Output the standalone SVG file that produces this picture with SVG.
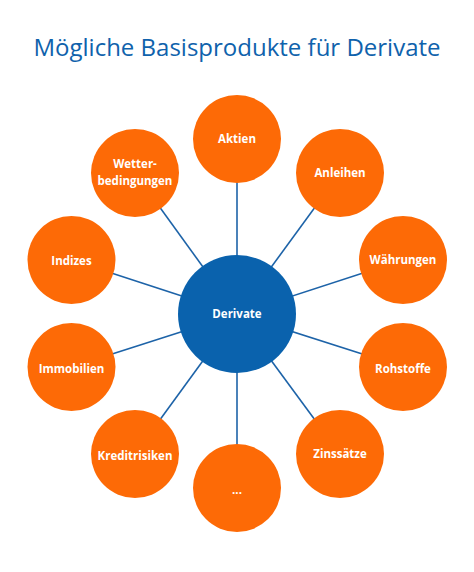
<svg xmlns="http://www.w3.org/2000/svg" width="474" height="572" viewBox="0 0 474 572">
<style>
.title{font-family:"Open Sans","Liberation Sans",sans-serif;font-size:24px;fill:#0f62ac}
.leaf circle{fill:#fd6a06}
.hub circle{fill:#0a62ad}
.lbl{font-family:"Open Sans","Liberation Sans",sans-serif;font-size:11.5px;font-weight:bold;fill:#ffffff;text-anchor:middle}
.conn line{stroke:#1d63a8;stroke-width:1.6}
</style>
<rect width="474" height="572" fill="#ffffff"/>
<text class="title" x="237" y="56" text-anchor="middle">Mögliche Basisprodukte für Derivate</text>
<g id="connectors" class="conn">
<line x1="237" y1="314" x2="237" y2="139"/>
<line x1="237" y1="314" x2="340" y2="173"/>
<line x1="237" y1="314" x2="403" y2="260"/>
<line x1="237" y1="314" x2="403" y2="367"/>
<line x1="237" y1="314" x2="340" y2="454"/>
<line x1="237" y1="314" x2="237" y2="488"/>
<line x1="237" y1="314" x2="135" y2="454"/>
<line x1="237" y1="314" x2="71.5" y2="367"/>
<line x1="237" y1="314" x2="71.5" y2="260"/>
<line x1="237" y1="314" x2="135" y2="173"/>
</g>
<g id="aktien" class="leaf"><circle cx="237" cy="139" r="44"/><text class="lbl" x="237" y="143">Aktien</text></g>
<g id="anleihen" class="leaf"><circle cx="340" cy="173" r="44"/><text class="lbl" x="340" y="177">Anleihen</text></g>
<g id="waehrungen" class="leaf"><circle cx="403" cy="260" r="44"/><text class="lbl" x="403" y="264">Währungen</text></g>
<g id="rohstoffe" class="leaf"><circle cx="403" cy="367" r="44"/><text class="lbl" x="403" y="373">Rohstoffe</text></g>
<g id="zinssaetze" class="leaf"><circle cx="340" cy="454" r="44"/><text class="lbl" x="340" y="458">Zinssätze</text></g>
<g id="more" class="leaf"><circle cx="237" cy="488" r="44"/><text class="lbl" x="237" y="494">...</text></g>
<g id="kreditrisiken" class="leaf"><circle cx="135" cy="454" r="44"/><text class="lbl" x="135" y="460">Kreditrisiken</text></g>
<g id="immobilien" class="leaf"><circle cx="71.5" cy="367" r="44"/><text class="lbl" x="71.5" y="373">Immobilien</text></g>
<g id="indizes" class="leaf"><circle cx="71.5" cy="260" r="44"/><text class="lbl" x="71.5" y="265">Indizes</text></g>
<g id="wetter" class="leaf"><circle cx="135" cy="173" r="44"/><text class="lbl" x="135" y="168">Wetter-</text><text class="lbl" x="135" y="185">bedingungen</text></g>
<g id="derivate" class="hub"><circle cx="237" cy="314" r="59"/><text class="lbl" x="237" y="318">Derivate</text></g>
</svg>
